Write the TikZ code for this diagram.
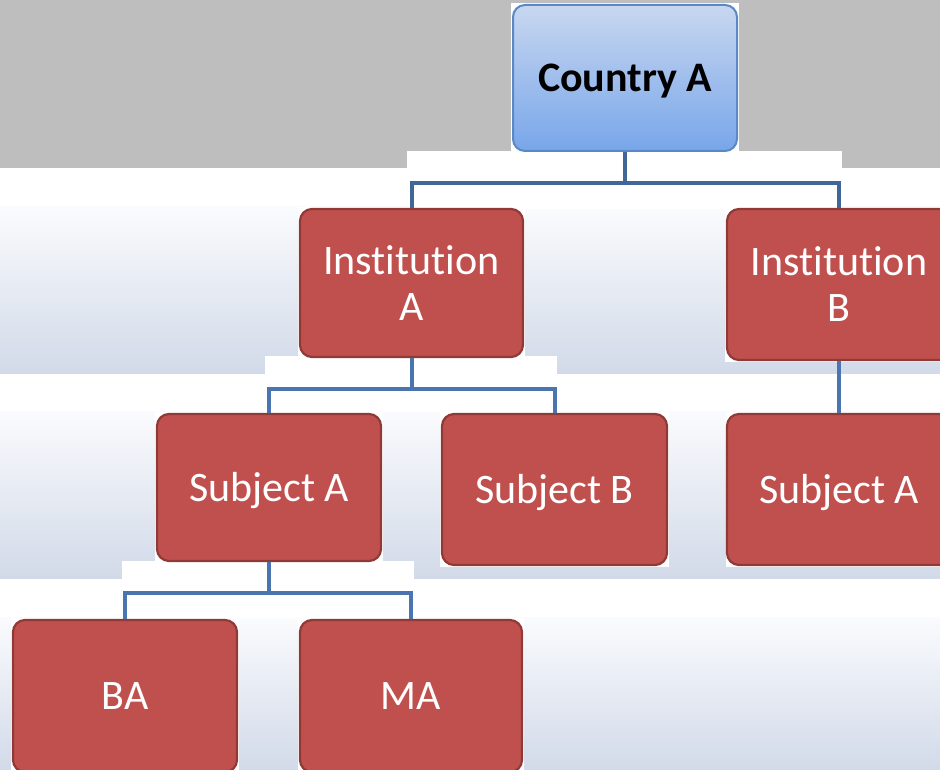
\documentclass[tikz,border=0pt]{standalone}
\usepackage{fontspec}
\setmainfont{Carlito}[Ligatures={NoCommon}]
\usetikzlibrary{positioning}
\definecolor{bggray}{HTML}{BEBEBE}
\definecolor{bandtop}{HTML}{FAFBFD}
\definecolor{bandbot}{HTML}{D2DAE9}
\definecolor{boxred}{HTML}{C0504D}
\definecolor{boxredline}{HTML}{8F3A37}
\definecolor{blutop}{HTML}{C8D7F0}
\definecolor{blubot}{HTML}{78A6EA}
\definecolor{bluline}{HTML}{5A88C4}
\definecolor{conntop}{HTML}{3F6898}
\definecolor{connlow}{HTML}{4A75AE}
\tikzset{
  redbox/.style={rectangle, rounded corners=12pt, fill=boxred, draw=boxredline,
    line width=2.2pt, inner sep=0pt, text=white, align=center,
    font=\fontsize{42}{46}\selectfont},
  oneline/.style={text height=27pt, text depth=0pt},
  bluebox/.style={rectangle, rounded corners=12pt, top color=blutop, bottom color=blubot,
    draw=bluline, line width=2pt, inner sep=0pt, text=black, align=center,
    font=\fontsize{42}{46}\selectfont\bfseries},
  conn/.style={draw=connlow, line width=4pt, line join=miter},
  conndark/.style={draw=conntop, line width=4pt, line join=miter},
  band/.style={top color=bandtop, bottom color=bandbot},
  whiteframe/.style={fill=white}
}
\begin{document}
\begin{tikzpicture}[x=1pt,y=-1pt]
\clip (0,0) rectangle (940,770);
% background
\fill[white] (0,0) rectangle (940,770);
\fill[bggray] (0,0) rectangle (940,168);
\fill[band] (0,207) rectangle (940,373);
\fill[band] (0,411) rectangle (940,578);
\fill[band] (0,617) rectangle (940,770);
\fill[white] (407,151) rectangle (842,209);
\fill[white] (265,356) rectangle (557,412);
\fill[white] (122,561) rectangle (414,618);
% white frames behind boxes
\fill[whiteframe] (511,3) rectangle (739,153);
\fill[whiteframe] (298,207) rectangle (525,359);
\fill[whiteframe] (725,207) rectangle (940,362);
\fill[whiteframe] (155,412) rectangle (383,563);
\fill[whiteframe] (440,412) rectangle (669,567);
\fill[whiteframe] (726,412) rectangle (940,567);
\fill[whiteframe] (11,618) rectangle (239,770);
\fill[whiteframe] (298,618) rectangle (524,770);
% boxes
\node[bluebox, oneline, minimum width=224pt, minimum height=146pt] (country) at (625,78) {Country A};
\node[redbox, minimum width=223pt, minimum height=148pt] (instA) at (411.5,283) {Institution\\A};
\node[redbox, minimum width=224pt, minimum height=151pt] (instB) at (839,284.5) {Institution\\B};
\node[redbox, oneline, minimum width=224pt, minimum height=147pt] (subA) at (269,487.5) {Subject A};
\node[redbox, oneline, minimum width=225pt, minimum height=151pt] (subB) at (554.5,489.5) {Subject B};
\node[redbox, oneline, minimum width=224pt, minimum height=151pt] (subA2) at (839,489.5) {Subject A};
\node[redbox, oneline, minimum width=224pt, minimum height=152pt] (ba) at (125,696) {BA};
\node[redbox, oneline, minimum width=222pt, minimum height=152pt] (ma) at (411,696) {MA};
% junctions
\coordinate (j1) at (625,183);
\coordinate (j2) at (411.5,389);
\coordinate (j3) at (269,593);
% connectors
\draw[conndark] (country.south) -- (j1) -| (instA.north);
\draw[conndark] (j1) -| (instB.north);
\draw[conn] (instA.south) -- (j2) -| (subA.north);
\draw[conn] (j2) -| (subB.north);
\draw[conn] (instB.south) -- (subA2.north);
\draw[conn] (subA.south) -- (j3) -| (ba.north);
\draw[conn] (j3) -| (ma.north);
\end{tikzpicture}
\end{document}
